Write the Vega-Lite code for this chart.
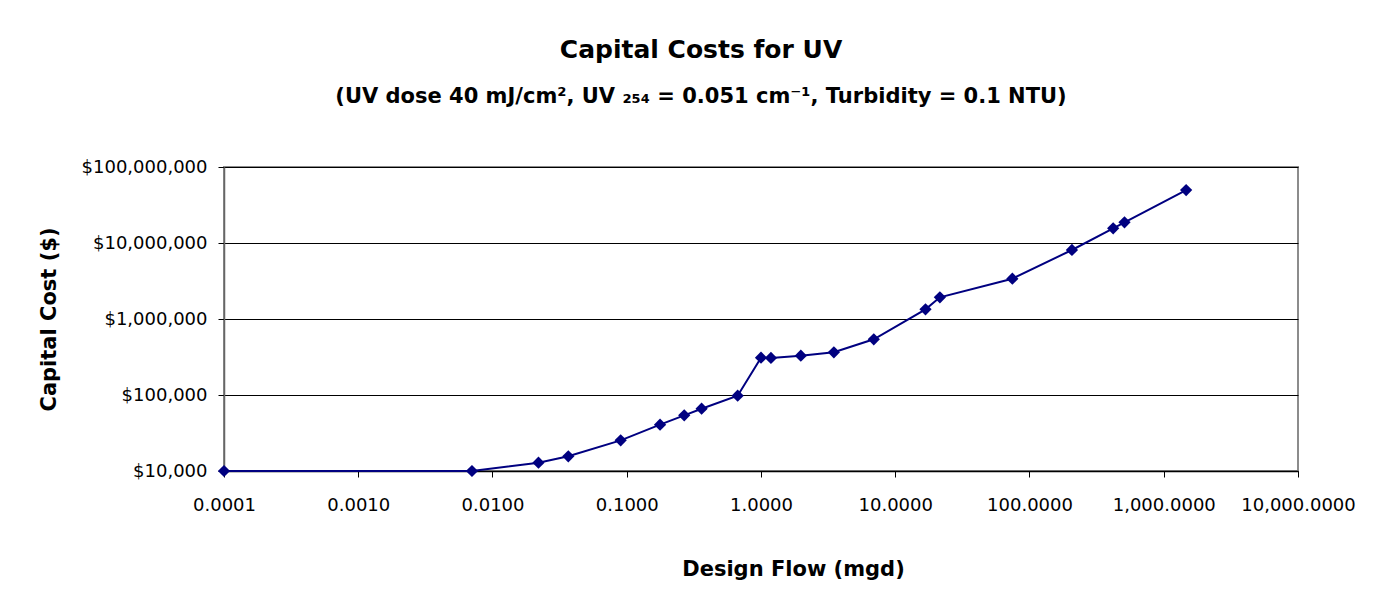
{
  "$schema": "https://vega.github.io/schema/vega-lite/v6.json",
  "autosize": {"type": "none"},
  "width": 1074,
  "height": 304,
  "padding": {"left": 224, "top": 167, "right": 89, "bottom": 143},
  "background": "white",
  "title": {
    "text": "Capital Costs for UV",
    "subtitle": "(UV dose 40 mJ/cm², UV ₂₅₄ = 0.051 cm⁻¹, Turbidity = 0.1 NTU)",
    "anchor": "middle",
    "frame": "group",
    "dx": -60,
    "offset": 51,
    "font": "DejaVu Sans",
    "fontSize": 25,
    "fontWeight": "bold",
    "color": "black",
    "subtitleFont": "DejaVu Sans",
    "subtitleFontSize": 21,
    "subtitleFontWeight": "bold",
    "subtitleColor": "black",
    "subtitlePadding": 23
  },
  "data": {
    "values": [
      {"flow": 0.0001, "cost": 10000},
      {"flow": 0.00703, "cost": 10000},
      {"flow": 0.022, "cost": 12850},
      {"flow": 0.0367, "cost": 15600},
      {"flow": 0.0901, "cost": 25300},
      {"flow": 0.177, "cost": 40700},
      {"flow": 0.268, "cost": 54000},
      {"flow": 0.361, "cost": 66000},
      {"flow": 0.67, "cost": 98000},
      {"flow": 1.0, "cost": 310000},
      {"flow": 1.186, "cost": 307000},
      {"flow": 1.98, "cost": 329000},
      {"flow": 3.49, "cost": 365000},
      {"flow": 6.92, "cost": 541000},
      {"flow": 16.8, "cost": 1340000},
      {"flow": 21.5, "cost": 1930000},
      {"flow": 74.5, "cost": 3390000},
      {"flow": 207, "cost": 8090000},
      {"flow": 420, "cost": 15600000},
      {"flow": 510, "cost": 18700000},
      {"flow": 1468, "cost": 49800000}
    ]
  },
  "encoding": {
    "x": {
      "field": "flow",
      "type": "quantitative",
      "scale": {"type": "log", "domain": [0.0001, 10000], "nice": false},
      "axis": {
        "title": "Design Flow (mgd)",
        "values": [0.0001, 0.001, 0.01, 0.1, 1, 10, 100, 1000, 10000],
        "format": ",.4f",
        "grid": false,
        "domainColor": "black",
        "domainWidth": 1.5,
        "tickColor": "black",
        "tickSize": 6,
        "labelPadding": 19,
        "labelFont": "DejaVu Sans",
        "labelFontSize": 18,
        "labelColor": "black",
        "labelFlush": false,
        "labelOverlap": false,
        "titleFont": "DejaVu Sans",
        "titleFontSize": 21,
        "titleFontWeight": "bold",
        "titleColor": "black",
        "titlePadding": 44,
        "titleX": 569,
        "titleAlign": "center"
      }
    },
    "y": {
      "field": "cost",
      "type": "quantitative",
      "scale": {"type": "log", "domain": [10000, 100000000], "nice": false},
      "axis": {
        "title": "Capital Cost ($)",
        "values": [10000, 100000, 1000000, 10000000, 100000000],
        "format": "$,.0f",
        "grid": true,
        "gridColor": "black",
        "gridWidth": 1.2,
        "gridOpacity": 1,
        "domainColor": "#666666",
        "domainWidth": 1.5,
        "tickColor": "black",
        "tickSize": 6,
        "labelPadding": 11,
        "labelFont": "DejaVu Sans",
        "labelFontSize": 18,
        "labelColor": "black",
        "labelFlush": false,
        "labelOverlap": false,
        "titleFont": "DejaVu Sans",
        "titleFontSize": 21,
        "titleFontWeight": "bold",
        "titleColor": "black",
        "titlePadding": 22
      }
    }
  },
  "layer": [
    {"mark": {"type": "line", "color": "#000080", "strokeWidth": 2}},
    {"mark": {"type": "point", "shape": "diamond", "filled": true, "color": "#000080", "opacity": 1, "size": 150}}
  ],
  "config": {
    "view": {"stroke": "#8c8c8c", "strokeWidth": 2}
  }
}
